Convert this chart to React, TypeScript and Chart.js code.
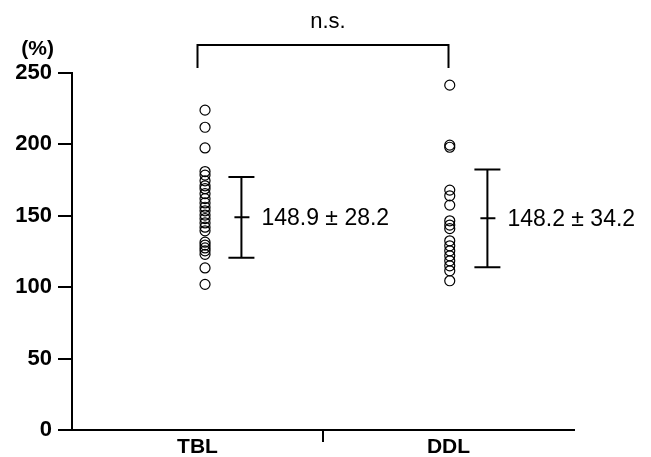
import React, { useEffect, useRef } from 'react';
import { Chart, registerables } from 'chart.js';

Chart.register(...registerables);

const categories = ['TBL', 'DDL'];
const categoryX = [1, 3];
const pointX = [1.06, 3.01];
const barX = [1.35, 3.31];
const tblValues = [224, 212, 197.5, 181, 178.5, 174.5, 171, 169, 165.5, 162, 159, 156, 153.5, 150.5, 148, 145, 142, 139.5, 131.5, 129.5, 127.5, 125.5, 123, 113.5, 102];
const ddlValues = [241.5, 199.5, 198, 168, 164, 157.5, 146.5, 143.5, 141, 132.5, 129, 125.5, 122, 118.5, 115, 111.5, 104.5];
const means = [148.9, 148.2];
const sds = [28.2, 34.2];
const yTicks = [0, 50, 100, 150, 200, 250];
const significanceLabel = 'n.s.';
const yUnitLabel = '(%)';

const FONT = '"Liberation Sans", Arial, Helvetica, sans-serif';

const overlayPlugin = {
  id: 'overlay',
  afterDraw(chart: any) {
    const { ctx, chartArea } = chart;
    const x = chart.scales.x;
    const y = chart.scales.y;
    ctx.save();
    ctx.strokeStyle = '#000';
    ctx.fillStyle = '#000';
    ctx.lineWidth = 2;
    categories.forEach((_, i) => {
      const bx = x.getPixelForValue(barX[i]);
      const top = y.getPixelForValue(means[i] + sds[i]);
      const bot = y.getPixelForValue(means[i] - sds[i]);
      const my = y.getPixelForValue(means[i]);
      ctx.beginPath();
      ctx.moveTo(bx, top);
      ctx.lineTo(bx, bot);
      ctx.moveTo(bx - 13, top);
      ctx.lineTo(bx + 13, top);
      ctx.moveTo(bx - 13, bot);
      ctx.lineTo(bx + 13, bot);
      ctx.moveTo(bx - 7, my);
      ctx.lineTo(bx + 8, my);
      ctx.stroke();
      ctx.font = `23px ${FONT}`;
      ctx.textAlign = 'left';
      ctx.textBaseline = 'alphabetic';
      ctx.fillText(`${means[i].toFixed(1)} ± ${sds[i].toFixed(1)}`, bx + 20, my + 8);
    });
    const x1 = x.getPixelForValue(categoryX[0]);
    const x2 = x.getPixelForValue(categoryX[1]);
    const bt = chartArea.top - 28;
    const bb = chartArea.top - 5;
    ctx.beginPath();
    ctx.moveTo(x1, bb);
    ctx.lineTo(x1, bt);
    ctx.lineTo(x2, bt);
    ctx.lineTo(x2, bb);
    ctx.stroke();
    ctx.font = `22px ${FONT}`;
    ctx.textAlign = 'center';
    ctx.fillText(significanceLabel, (x1 + x2) / 2 + 5, bt - 17);
    ctx.font = `bold 21px ${FONT}`;
    ctx.textAlign = 'right';
    ctx.fillText(yUnitLabel, 54, 55);
    ctx.restore();
  },
};

export default function App() {
  const ref = useRef<HTMLCanvasElement>(null);
  useEffect(() => {
    if (!ref.current) return;
    const chart = new Chart(ref.current, {
      type: 'scatter',
      data: {
        datasets: [
          {
            label: categories[0],
            data: tblValues.map((v) => ({ x: pointX[0], y: v })),
            pointRadius: 5,
            pointBorderWidth: 1.2,
            borderColor: '#000',
            backgroundColor: 'rgba(0,0,0,0)',
          },
          {
            label: categories[1],
            data: ddlValues.map((v) => ({ x: pointX[1], y: v })),
            pointRadius: 5,
            pointBorderWidth: 1.2,
            borderColor: '#000',
            backgroundColor: 'rgba(0,0,0,0)',
          },
        ],
      },
      options: {
        animation: false,
        responsive: false,
        layout: { padding: { top: 73, left: 0, right: 77, bottom: 0 } },
        plugins: { legend: { display: false }, tooltip: { enabled: false } },
        scales: {
          x: {
            type: 'linear',
            min: 0,
            max: 4,
            afterBuildTicks: (axis: any) => {
              axis.ticks = [{ value: 1 }, { value: 2 }, { value: 3 }];
            },
            afterFit: (axis: any) => {
              axis.height = 27;
            },
            ticks: {
              autoSkip: false,
              maxRotation: 0,
              padding: -7,
              color: '#000',
              font: { family: FONT, size: 21, weight: 'bold' },
              callback: (v: any) => (v === categoryX[0] ? categories[0] : v === categoryX[1] ? categories[1] : ''),
            },
            grid: {
              drawOnChartArea: false,
              tickLength: 12,
              lineWidth: 2,
              color: (ctx: any) => (ctx.tick && ctx.tick.value === 2 ? '#000' : 'rgba(0,0,0,0)'),
            },
            border: { color: '#000', width: 2 },
          },
          y: {
            min: 0,
            max: 250,
            afterBuildTicks: (axis: any) => {
              axis.ticks = yTicks.map((v) => ({ value: v }));
            },
            afterFit: (axis: any) => {
              axis.width = 72;
            },
            ticks: {
              padding: 6,
              color: '#000',
              font: { family: FONT, size: 22, weight: 'bold' },
            },
            grid: { drawOnChartArea: false, tickLength: 14, lineWidth: 2, color: '#000' },
            border: { color: '#000', width: 2 },
          },
        },
      },
      plugins: [overlayPlugin],
    });
    return () => chart.destroy();
  }, []);
  return (
    <div style={{ position: 'absolute', left: 0, top: 0, width: 651, height: 457, background: '#fff' }}>
      <canvas ref={ref} width={651} height={457} />
    </div>
  );
}
